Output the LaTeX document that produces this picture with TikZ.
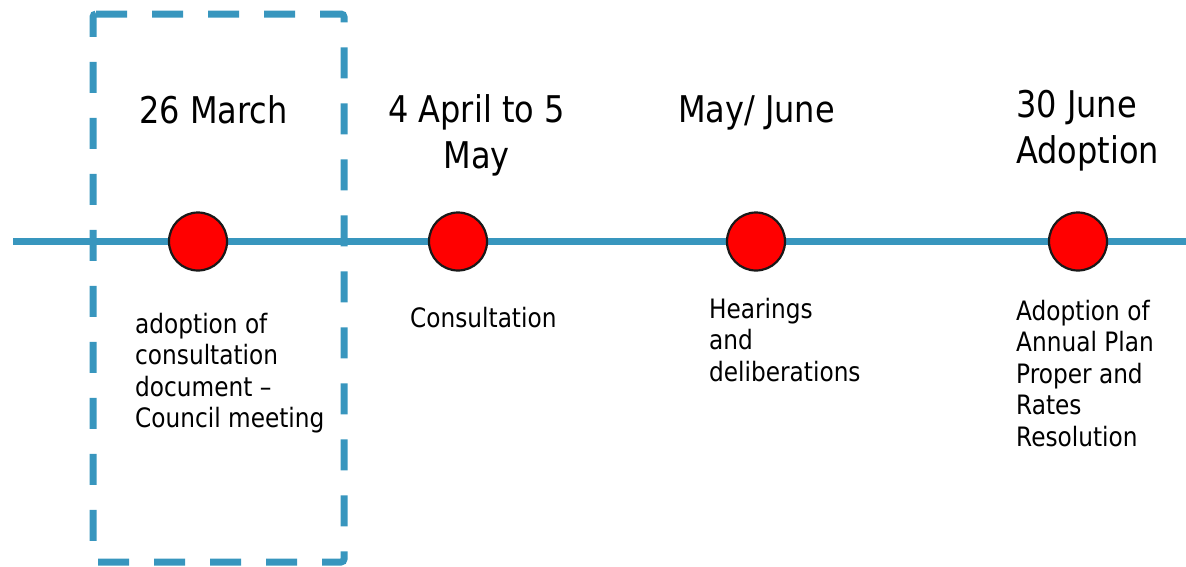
\documentclass[tikz,border=0pt]{standalone}
\usepackage{fontspec}
\setmainfont{DejaVu Sans}[FakeStretch=0.87]
\definecolor{lineblue}{RGB}{56,150,190}

\tikzset{
  milestone/.style={circle, draw=black!90, line width=2.2pt, fill=red,
    minimum size=58pt, inner sep=0pt},
  datelabel/.style={font=\fontsize{36.8}{45.5}\selectfont, inner sep=0pt,
    anchor=base},
  notelabel/.style={font=\fontsize{26.7}{31.5}\selectfont, inner sep=0pt,
    align=left, anchor=base west},
}

\begin{document}
\begin{tikzpicture}[x=1pt, y=-1pt]
    \useasboundingbox (0,0) rectangle (1186,566);

    % timeline
    \coordinate (tl start) at (13,241.5);
    \coordinate (tl end) at (1186,241.5);
    \draw[lineblue, line width=7pt] (tl start) -- (tl end);

    % dashed frame round the first step
    \draw[lineblue, line width=7pt, dash pattern=on 31pt off 25pt,
        rounded corners=3pt] (93,14) -- (344,14) -- (344,562) -- (93,562) -- cycle;

    % milestones
    \node[milestone] (march) at (198,241.5) {};
    \node[milestone] (april) at (458,241.5) {};
    \node[milestone] (june) at (756,241.5) {};
    \node[milestone] (adopt) at (1078,241.5) {};

    % dates above the line (base = last line)
    \node[datelabel] (march date) at (213.5,123) {26 March};
    \node[datelabel, align=center] (april date) at (476.5,168) {4 April to 5\\May};
    \node[datelabel] (june date) at (756.5,122) {May/ June};
    \node[datelabel, align=left, anchor=base west] (adopt date) at (1016,163) {30 June\\Adoption};

    % what happens at each step
    \node[notelabel] (march note) at (135,427.5) {adoption of\\consultation\\document --\\Council meeting};
    \node[notelabel] (april note) at (410,327) {Consultation};
    \node[notelabel] (june note) at (709,381) {Hearings\\and\\deliberations};
    \node[notelabel] (adopt note) at (1016,446) {Adoption of\\Annual Plan\\Proper and\\Rates\\Resolution};
\end{tikzpicture}
\end{document}
